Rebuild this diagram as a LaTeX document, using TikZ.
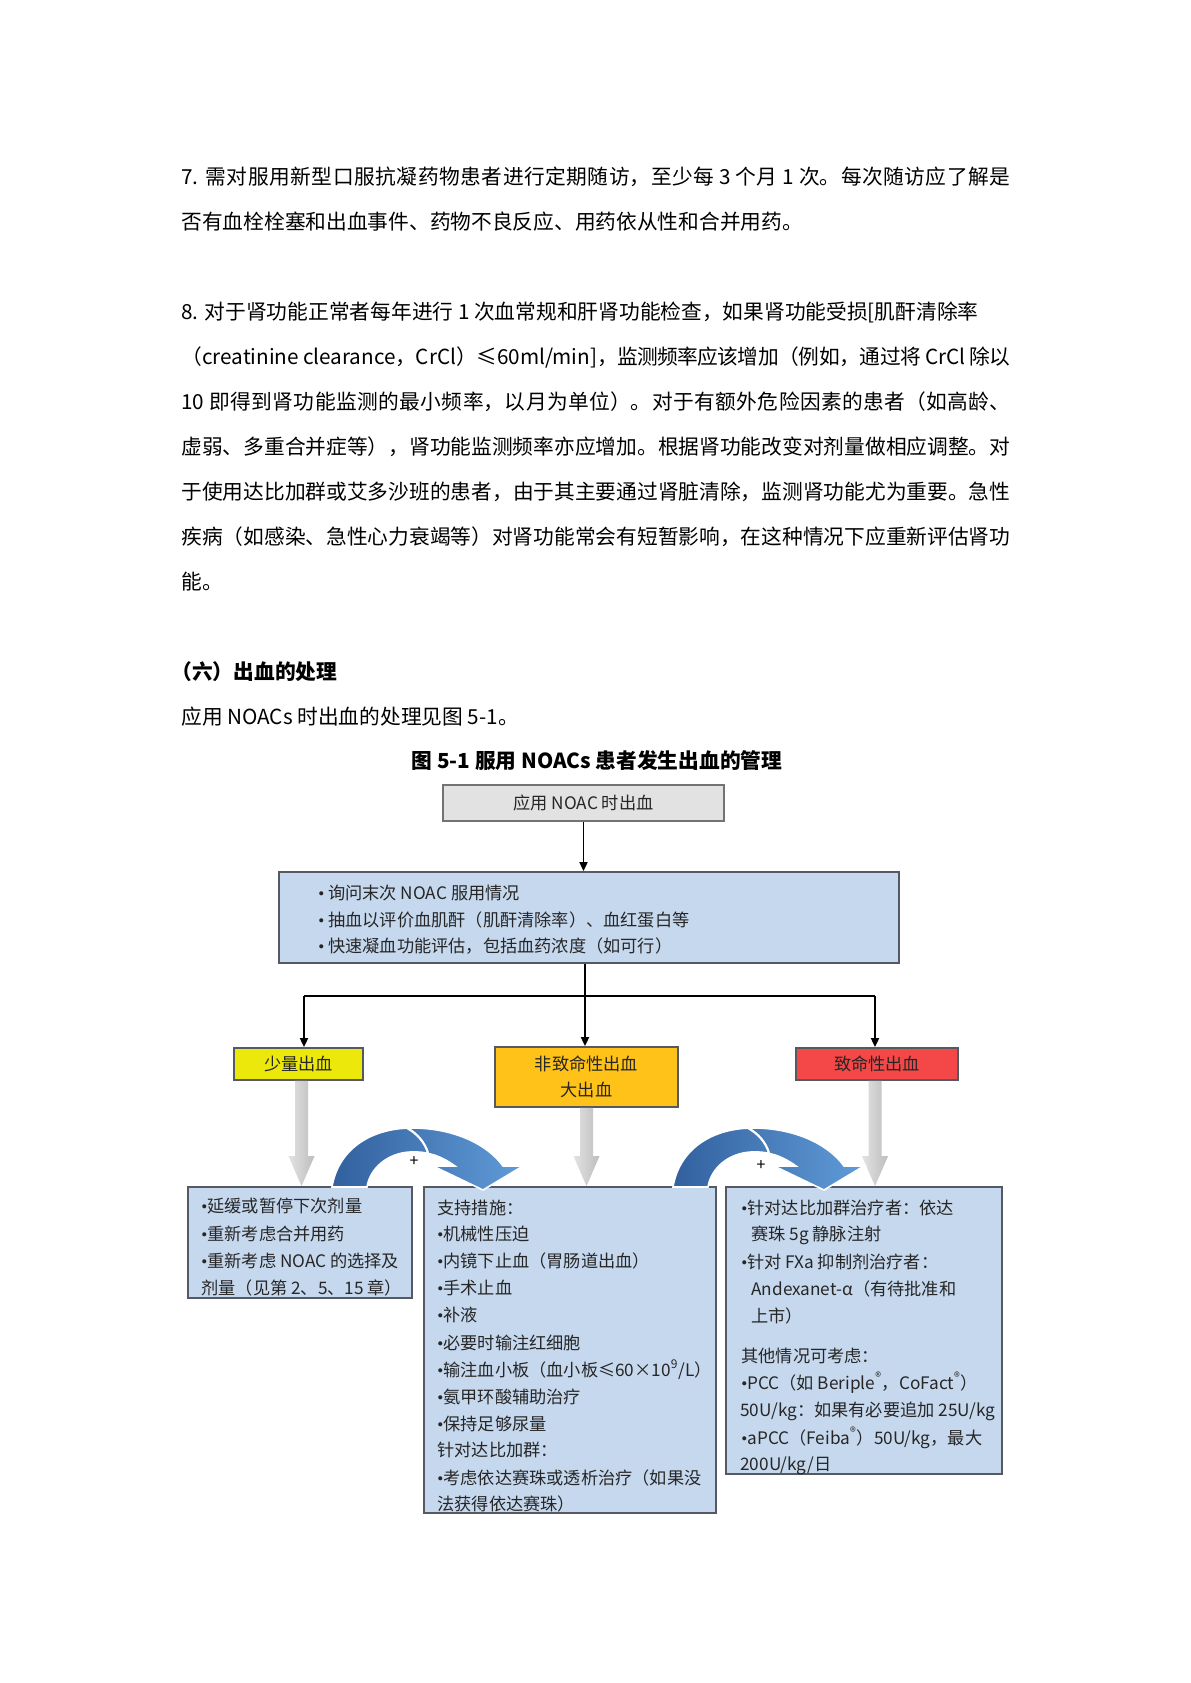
\documentclass[tikz,border=0pt]{standalone}
\usepackage{fontspec}
\setmainfont{Noto Sans CJK SC}
\newfontfamily\bulfont{Liberation Serif}
\usetikzlibrary{calc,arrows.meta}
\XeTeXlinebreaklocale "zh"
\XeTeXlinebreakskip=0pt plus 2pt minus 1pt
\hbadness=10000
\definecolor{boxblue}{RGB}{198,216,238}
\definecolor{boxline}{RGB}{85,90,98}
\definecolor{topgray}{RGB}{226,226,226}
\definecolor{ylw}{RGB}{236,232,12}
\definecolor{org}{RGB}{255,194,24}
\definecolor{rd}{RGB}{244,72,72}
\definecolor{arrdark}{RGB}{50,96,158}
\definecolor{arrlight}{RGB}{96,156,216}
\newcommand\jline[1]{\parbox[b]{414.5pt}{\parfillskip=0pt\relax\parindent=0pt\noindent #1\par}}
\newcommand\dfont{\fontsize{8.6pt}{13pt}\selectfont}
\newcommand\bul{{\bulfont •}}
\newcommand\grayarrow[2]{%
  \path[grayshade] ($(#1)+(-6.5,0)$) -- ($(#2)+(-6.5,-30)$) -- ($(#2)+(-13,-30)$) -- (#2)
   -- ($(#2)+(13,-30)$) -- ($(#2)+(6.5,-30)$) -- ($(#1)+(6.5,0)$) -- cycle;}
\newcommand\curvearrow{%
  \path[curveshade] (332,1187) .. controls (338,1150) and (370,1128) .. (412,1128)
    .. controls (455,1128) and (488,1145) .. (503,1166) -- (523,1166) -- (483,1190)
    -- (433,1166) -- (455,1166) .. controls (440,1155) and (425,1151) .. (410,1152)
    .. controls (388,1153) and (370,1168) .. (367,1187) -- cycle;
  \draw[white, line width=1.1pt] (407,1128) .. controls (418,1134) and (425,1143) .. (428,1153);}
\tikzset{
  body/.style={anchor=base west, inner sep=0pt, font=\fontsize{10.36pt}{22.5pt}\selectfont},
  bodybold/.style={body, font=\fontsize{10.36pt}{22.5pt}\selectfont\bfseries},
  dtext/.style={anchor=base west, inner sep=0pt, font=\dfont, text=black!85},
  box/.style={draw=boxline, line width=0.9pt, inner sep=0pt, font=\dfont, text=black!85},
  link/.style={draw=black, line width=0.9pt},
  conn/.style={link, -{Triangle[length=4.5pt,width=4pt]}},
  grayshade/.style={left color=gray!22, right color=gray!52, draw=none},
  curveshade/.style={left color=arrdark, right color=arrlight, draw=white, line width=0.8pt},
  plus/.style={inner sep=0pt, font=\fontsize{8pt}{8pt}\selectfont}
}
\begin{document}
\begin{tikzpicture}[x=0.5pt,y=-0.5pt]
\useasboundingbox (0,0) rectangle (1190,1683);
\fill[white] (0,0) rectangle (1190,1683);
% body text
\node[body] (p7a) at (181,184) {\jline{7. 需对服用新型口服抗凝药物患者进行定期随访，至少每 3 个月 1 次。每次随访应了解是}};
\node[body] (p7b) at (181,229) {否有血栓栓塞和出血事件、药物不良反应、用药依从性和合并用药。};
\node[body] (p8a) at (181,319) {8. 对于肾功能正常者每年进行 1 次血常规和肝肾功能检查，如果肾功能受损[肌酐清除率};
\node[body] (p8b) at (181,364) {\jline{（creatinine clearance，CrCl）≤60ml/min]，监测频率应该增加（例如，通过将 CrCl 除以}};
\node[body] (p8c) at (181,409) {\jline{10 即得到肾功能监测的最小频率，以月为单位）。对于有额外危险因素的患者（如高龄、}};
\node[body] (p8d) at (181,454) {\jline{虚弱、多重合并症等），肾功能监测频率亦应增加。根据肾功能改变对剂量做相应调整。对}};
\node[body] (p8e) at (181,499) {\jline{于使用达比加群或艾多沙班的患者，由于其主要通过肾脏清除，监测肾功能尤为重要。急性}};
\node[body] (p8f) at (181,544) {\jline{疾病（如感染、急性心力衰竭等）对肾功能常会有短暂影响，在这种情况下应重新评估肾功}};
\node[body] (p8g) at (181,589) {能。};
\node[bodybold] (h6) at (171,679) {（六）出血的处理};
\node[body] (intro) at (181,724) {应用 NOACs 时出血的处理见图 5-1。};
\node[bodybold, anchor=base] (cap) at (597,768) {图 5-1 服用 NOACs 患者发生出血的管理};
% diagram boxes
\node[box, fill=topgray, draw=black!55, minimum width=140.5pt, minimum height=18pt] (start) at (583.5,803) {应用 NOAC 时出血};
\node[box, fill=boxblue, minimum width=310pt, minimum height=45.5pt] (assess) at (589,917.5) {};
\node[dtext] (as1) at (318,899) {\bul\ 询问末次 NOAC 服用情况};
\node[dtext] (as2) at (318,926) {\bul\ 抽血以评价血肌酐（肌酐清除率）、血红蛋白等};
\node[dtext] (as3) at (318,952) {\bul\ 快速凝血功能评估，包括血药浓度（如可行）};
\node[box, fill=ylw, minimum width=64.5pt, minimum height=16pt] (minor) at (298.5,1064) {少量出血};
\node[box, fill=org, minimum width=91.5pt, minimum height=30pt, align=center] (major) at (586.5,1077) {非致命性出血\\大出血};
\node[box, fill=rd, minimum width=81pt, minimum height=16pt] (fatal) at (877,1064) {致命性出血};
\node[box, fill=boxblue, minimum width=112pt, minimum height=55.5pt] (lbox) at (300,1242.5) {};
\node[box, fill=boxblue, minimum width=146pt, minimum height=163pt] (mbox) at (570,1350) {};
\node[box, fill=boxblue, minimum width=138pt, minimum height=143.5pt] (rbox) at (864,1330.5) {};
% connectors
\coordinate (split) at (585,996);
\coordinate (lsplit) at (304,996);
\coordinate (rsplit) at (875,996);
\draw[conn] (start.south) -- (start.south |- assess.north);
\draw[link] (split |- assess.south) -- (split);
\draw[link] (lsplit) -- (rsplit);
\draw[conn] (lsplit) -- (lsplit |- minor.north);
\draw[conn] (split) -- (split |- major.north);
\draw[conn] (rsplit) -- (rsplit |- fatal.north);
% gray block arrows
\coordinate (g1s) at ($(minor.south)+(3,0)$);
\coordinate (g1t) at (g1s |- lbox.north);
\coordinate (g2s) at (major.south);
\coordinate (g2t) at (g2s |- mbox.north);
\coordinate (g3s) at ($(fatal.south)+(-2,0)$);
\coordinate (g3t) at (g3s |- rbox.north);
\grayarrow{g1s}{g1t}
\grayarrow{g2s}{g2t}
\grayarrow{g3s}{g3t}
% curved arrows
\curvearrow
\begin{scope}[shift={(341,0)}]
\curvearrow
\end{scope}
\node[plus] (plus1) at (414,1162) {+};
\node[plus] (plus2) at (761,1166) {+};
% left box text
\node[dtext] (l1) at (201,1212) {\bul 延缓或暂停下次剂量};
\node[dtext] (l2) at (201,1240) {\bul 重新考虑合并用药};
\node[dtext] (l3) at (201,1267) {\bul 重新考虑 NOAC 的选择及};
\node[dtext] (l4) at (201,1294) {剂量（见第 2、5、15 章）};
% middle box text
\node[dtext] (m1) at (437,1214) {支持措施：};
\node[dtext] (m2) at (437,1240) {\bul 机械性压迫};
\node[dtext] (m3) at (437,1267) {\bul 内镜下止血（胃肠道出血）};
\node[dtext] (m4) at (437,1294) {\bul 手术止血};
\node[dtext] (m5) at (437,1321) {\bul 补液};
\node[dtext] (m6) at (437,1349) {\bul 必要时输注红细胞};
\node[dtext] (m7) at (437,1376) {\bul 输注血小板（血小板≤60×10\textsuperscript{9}/L）};
\node[dtext] (m8) at (437,1403) {\bul 氨甲环酸辅助治疗};
\node[dtext] (m9) at (437,1430) {\bul 保持足够尿量};
\node[dtext] (m10) at (437,1456) {针对达比加群：};
\node[dtext] (m11) at (437,1484) {\bul 考虑依达赛珠或透析治疗（如果没};
\node[dtext] (m12) at (437,1510) {法获得依达赛珠）};
% right box text
\node[dtext] (r1) at (741,1214) {\bul 针对达比加群治疗者：依达};
\node[dtext] (r2) at (751,1240) {赛珠 5g 静脉注射};
\node[dtext] (r3) at (741,1268) {\bul 针对 FXa 抑制剂治疗者：};
\node[dtext] (r4) at (751,1295) {Andexanet-α（有待批准和};
\node[dtext] (r5) at (751,1322) {上市）};
\node[dtext] (r6) at (741,1362) {其他情况可考虑：};
\node[dtext] (r7) at (741,1389) {\bul PCC（如 Beriple\textsuperscript{®}，CoFact\textsuperscript{®}）};
\node[dtext] (r8) at (740,1416) {50U/kg：如果有必要追加 25U/kg};
\node[dtext] (r9) at (741,1444) {\bul aPCC（Feiba\textsuperscript{®}）50U/kg，最大};
\node[dtext] (r10) at (740,1470) {200U/kg/日};
\end{tikzpicture}
\end{document}
